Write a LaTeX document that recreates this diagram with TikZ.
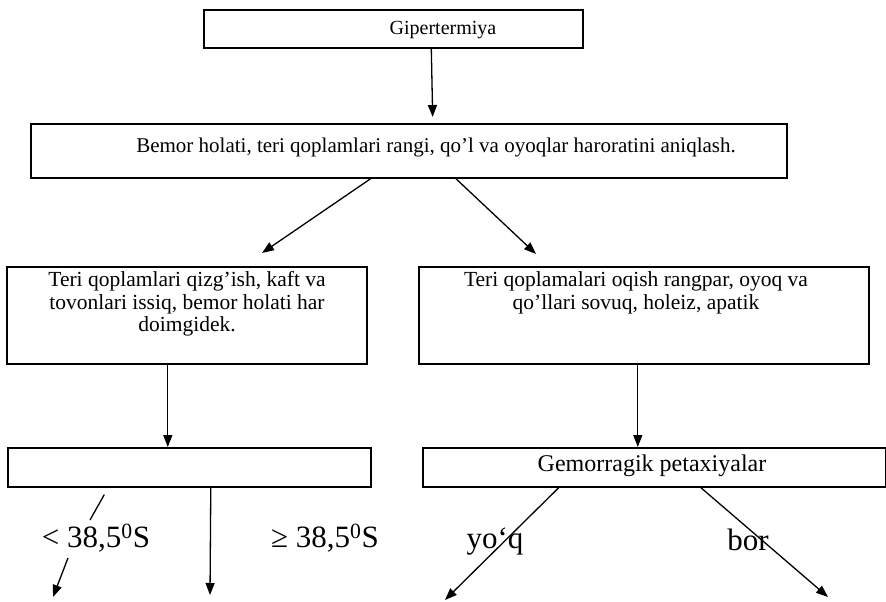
\documentclass[tikz,border=0pt]{standalone}
\usepackage{fontspec}
\setmainfont{Liberation Serif}
\usetikzlibrary{arrows.meta}
\begin{document}
\begin{tikzpicture}[x=1pt,y=-1pt,
  box/.style={draw,line width=1.6pt,inner sep=0pt,anchor=north west},
  txt/.style={font=\fontsize{21.5}{22.5}\selectfont,align=center,inner sep=0pt},
  big/.style={font=\fontsize{31}{34}\selectfont,inner sep=0pt},
  arr/.style={line width=1.3pt,-{Triangle[length=12pt,width=9pt]}},
  ln/.style={line width=1.3pt}]
\useasboundingbox[fill=white] (0,0) rectangle (886,602);
% boxes
\node[box,minimum width=379pt,minimum height=38pt] (b1) at (203,9) {};
\node[box,minimum width=756pt,minimum height=54pt] (b2) at (30,123) {};
\node[box,minimum width=360pt,minimum height=97pt] (b3L) at (6,266) {};
\node[box,minimum width=450pt,minimum height=97pt] (b3R) at (418,266) {};
\node[box,minimum width=363pt,minimum height=39pt] (b4L) at (7,447) {};
\node[box,minimum width=463pt,minimum height=39pt] (b4R) at (422,447) {};
% texts
\node[font=\fontsize{20}{22}\selectfont,inner sep=0pt] (t1) at (443,30) {Gipertermiya};
\node[font=\fontsize{21}{22}\selectfont,inner sep=0pt] (t2) at (436,147) {Bemor holati, teri qoplamlari rangi, qo’l va oyoqlar haroratini aniqlash.};
\node[txt] (t3L) at (187,304) {Teri qoplamlari qizg’ish, kaft va\\tovonlari issiq, bemor holati har\\doimgidek.};
\node[txt] (t3R) at (636,293) {Teri qoplamalari oqish rangpar, oyoq va\\qo’llari sovuq, holeiz, apatik};
\node[font=\fontsize{24}{26}\selectfont,inner sep=0pt] (t4R) at (652,466) {Gemorragik petaxiyalar};
% bottom labels
\node[big] (lt) at (96,538) {< 38,5\textsuperscript{0}S};
\node[big] (ge) at (325,538) {≥ 38,5\textsuperscript{0}S};
\node[big] (yoq) at (495,542) {yo‘q};
\node[big] (bor) at (748,540) {bor};
% free ends
\coordinate (d1e) at (262,253);
\coordinate (d2e) at (536,254);
\coordinate (s1e) at (90,520);
\coordinate (a1s) at (68,558);
\coordinate (a1e) at (53,597);
\coordinate (a2e) at (210,595);
\coordinate (a3e) at (445,600);
\coordinate (a4e) at (828,597);
% connectors
\draw[arr,shorten >=6pt] ([xshift=38pt]b1.south) -- ([xshift=24pt]b2.north);
\draw[arr] ([xshift=-38pt]b2.south) -- (d1e);
\draw[arr] ([xshift=47pt]b2.south) -- (d2e);
\draw[arr] ([xshift=-19pt]b3L.south) -- ([xshift=-21.5pt]b4L.north);
\draw[arr] ([xshift=-6pt]b3R.south) -- ([xshift=-16.5pt]b4R.north);
\draw[ln] ([xshift=-85pt,yshift=-7pt]b4L.south) -- (s1e);
\draw[arr] (a1s) -- (a1e);
\draw[arr] ([xshift=21.5pt]b4L.south) -- (a2e);
\draw[arr] ([xshift=-95.5pt]b4R.south) -- (a3e);
\draw[arr] ([xshift=46.5pt]b4R.south) -- (a4e);
\end{tikzpicture}
\end{document}
